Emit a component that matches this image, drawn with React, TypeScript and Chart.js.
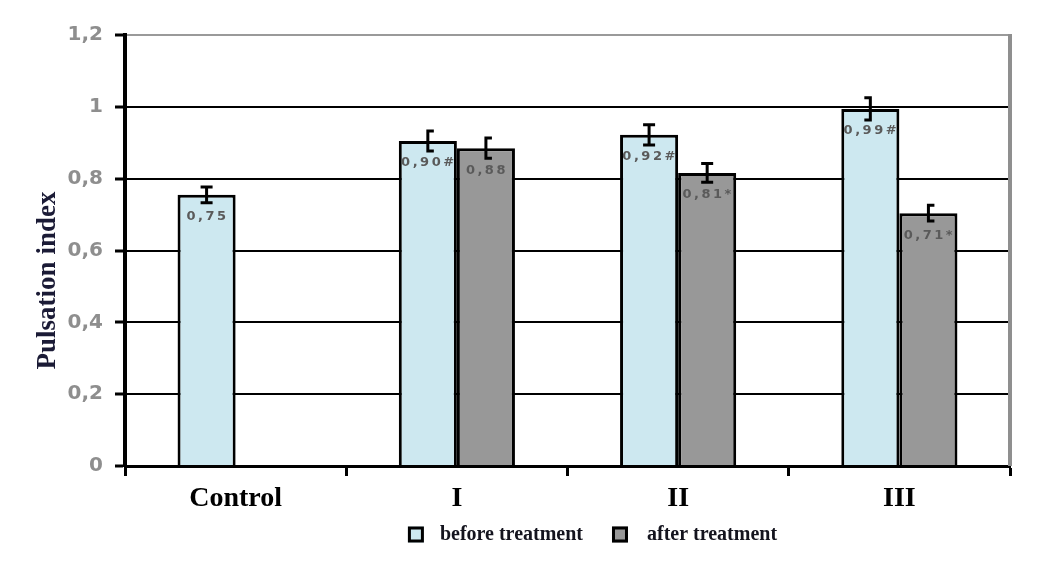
import { useEffect, useRef } from "react";
import { Chart, registerables } from "chart.js";

Chart.register(...registerables);

const categories = ["Control", "I", "II", "III"];
const seriesNames = ["before treatment", "after treatment"];
const beforeValues = [0.755, 0.905, 0.922, 0.994];
const afterValues = [null, 0.885, 0.816, 0.704];
const beforeErrors = [0.022, 0.028, 0.028, 0.031];
const afterErrors = [null, 0.028, 0.026, 0.022];
const beforeLabels = ["0,75", "0,90#", "0,92#", "0,99#"];
const afterLabels = ["", "0,88", "0,81*", "0,71*"];
const yTicks = [0, 0.2, 0.4, 0.6, 0.8, 1, 1.2];
const yTickLabels = ["0", "0,2", "0,4", "0,6", "0,8", "1", "1,2"];

// cap style of each error bar: which way the caps point from the stem
const beforeCaps = ["both", "right", "both", "left"];
const afterCaps = ["", "right", "both", "right"];

const BEFORE_COLOR = "#cde8f0";
const AFTER_COLOR = "#989898";

const decorPlugin = {
  id: "decor",
  afterDatasetsDraw(chart: any) {
    const ctx = chart.ctx;
    const { left, right, top, bottom } = chart.chartArea;
    const yScale = chart.scales.y;
    ctx.save();
    // right frame
    ctx.strokeStyle = "#8f8f8f";
    ctx.lineWidth = 4;
    ctx.beginPath();
    ctx.moveTo(right, top - 1);
    ctx.lineTo(right, bottom);
    ctx.stroke();

    chart.data.datasets.forEach((ds: any, di: number) => {
      const meta = chart.getDatasetMeta(di);
      meta.data.forEach((bar: any, i: number) => {
        const v = ds.data[i];
        if (v == null) return;
        const e = ds.errors[i];
        const x = bar.x;
        const yHi = yScale.getPixelForValue(v + e);
        const yLo = yScale.getPixelForValue(v - e);
        const side = ds.capSides[i];
        const cw = 6;
        ctx.strokeStyle = "#000";
        ctx.lineWidth = 3;
        ctx.beginPath();
        ctx.moveTo(x, yHi);
        ctx.lineTo(x, yLo);
        const l = side === "right" ? x - 1.5 : x - cw;
        const r = side === "left" ? x + 1.5 : x + cw;
        ctx.moveTo(l, yHi);
        ctx.lineTo(r, yHi);
        ctx.moveTo(l, yLo);
        ctx.lineTo(r, yLo);
        ctx.stroke();

        const label = ds.valueLabels[i];
        if (label) {
          ctx.font = "bold 13px 'DejaVu Sans'";
          ctx.fillStyle = "#5a5a5a";
          ctx.textAlign = "center";
          ctx.textBaseline = "middle";
          try {
            (ctx as any).letterSpacing = "2.5px";
          } catch (err) {}
          ctx.fillText(label, x + 1, bar.y + 22);
          try {
            (ctx as any).letterSpacing = "0px";
          } catch (err) {}
        }
      });
    });
    ctx.restore();
  },
  afterDraw(chart: any) {
    const ctx = chart.ctx;
    const { left, right, top, bottom } = chart.chartArea;
    ctx.save();
    // y axis title
    ctx.translate(left - 77, (top + bottom) / 2 + 30);
    ctx.rotate(-Math.PI / 2);
    ctx.font = "bold 27px 'Liberation Serif'";
    ctx.fillStyle = "#1b1b36";
    ctx.textAlign = "center";
    ctx.textBaseline = "middle";
    ctx.fillText("Pulsation index", 0, 0);
    ctx.restore();

    // legend
    ctx.save();
    ctx.font = "bold 20px 'Liberation Serif'";
    const boxW = 16;
    const boxH = 16;
    const gaps = [16, 19];
    const itemGap = 29;
    const widths = chart.data.datasets.map((d: any) => ctx.measureText(d.label).width);
    let total = 0;
    widths.forEach((w: number, i: number) => {
      total += boxW + gaps[i] + w;
    });
    total += itemGap;
    let x = (left + right) / 2 + 25 - total / 2;
    const cy = bottom + 68.5;
    chart.data.datasets.forEach((d: any, i: number) => {
      ctx.fillStyle = d.backgroundColor;
      ctx.fillRect(x, cy - boxH / 2, boxW, boxH);
      ctx.strokeStyle = "#000";
      ctx.lineWidth = 3;
      ctx.strokeRect(x + 1.5, cy - boxH / 2 + 1.5, boxW - 3, boxH - 3);
      x += boxW + gaps[i];
      ctx.fillStyle = "#14141e";
      ctx.textAlign = "left";
      ctx.textBaseline = "middle";
      ctx.fillText(d.label, x, cy);
      x += widths[i] + itemGap;
    });
    ctx.restore();
  },
};

export default function App() {
  const canvasRef = useRef<HTMLCanvasElement | null>(null);

  useEffect(() => {
    if (!canvasRef.current) return;
    const chart = new Chart(canvasRef.current, {
      type: "bar",
      data: {
        labels: categories,
        datasets: [
          {
            label: seriesNames[0],
            data: beforeValues,
            backgroundColor: BEFORE_COLOR,
            borderColor: "#000",
            borderWidth: 3,
            errors: beforeErrors,
            valueLabels: beforeLabels,
            capSides: beforeCaps,
          } as any,
          {
            label: seriesNames[1],
            data: afterValues,
            backgroundColor: AFTER_COLOR,
            borderColor: "#000",
            borderWidth: 3,
            errors: afterErrors,
            valueLabels: afterLabels,
            capSides: afterCaps,
          } as any,
        ],
      },
      options: {
        animation: false,
        responsive: true,
        maintainAspectRatio: false,
        layout: { padding: { top: 27, right: 25, left: 0, bottom: 0 } },
        datasets: {
          bar: { categoryPercentage: 0.525, barPercentage: 1 },
        },
        plugins: {
          legend: { display: false },
          tooltip: { enabled: false },
        },
        scales: {
          x: {
            grid: {
              display: true,
              drawOnChartArea: false,
              drawTicks: true,
              tickLength: 10,
              tickColor: "#000",
              tickWidth: 3,
              offset: true,
            },
            border: { display: true, color: "#000", width: 3 },
            ticks: {
              color: "#000",
              font: { family: "'Liberation Serif'", size: 28, weight: "bold" },
              padding: 6,
            },
            afterFit: (s: any) => {
              s.height = 93;
            },
          },
          y: {
            min: 0,
            max: 1.2,
            afterBuildTicks: (s: any) => {
              s.ticks = yTicks.map((v) => ({ value: v }));
            },
            ticks: {
              callback: (_v: any, i: number) => yTickLabels[i],
              color: "#8e8e8e",
              font: { family: "'DejaVu Sans'", size: 20, weight: "bold" },
              padding: 12,
            },
            grid: {
              color: (c: any) =>
                c.tick && c.tick.value === 1.2
                  ? "#9a9a9a"
                  : c.tick && c.tick.value === 0
                  ? "rgba(0,0,0,0)"
                  : "#000",
              lineWidth: 2,
              tickColor: "#000",
              tickLength: 10,
              tickWidth: 3,
            },
            border: { color: "#000", width: 4 },
            afterFit: (s: any) => {
              s.width = 117;
            },
          },
        },
      } as any,
      plugins: [decorPlugin],
    });
    return () => chart.destroy();
  }, []);

  return (
    <div style={{ width: 1027, height: 551, position: "relative" }}>
      <canvas ref={canvasRef} style={{ display: "block" }} />
    </div>
  );
}
